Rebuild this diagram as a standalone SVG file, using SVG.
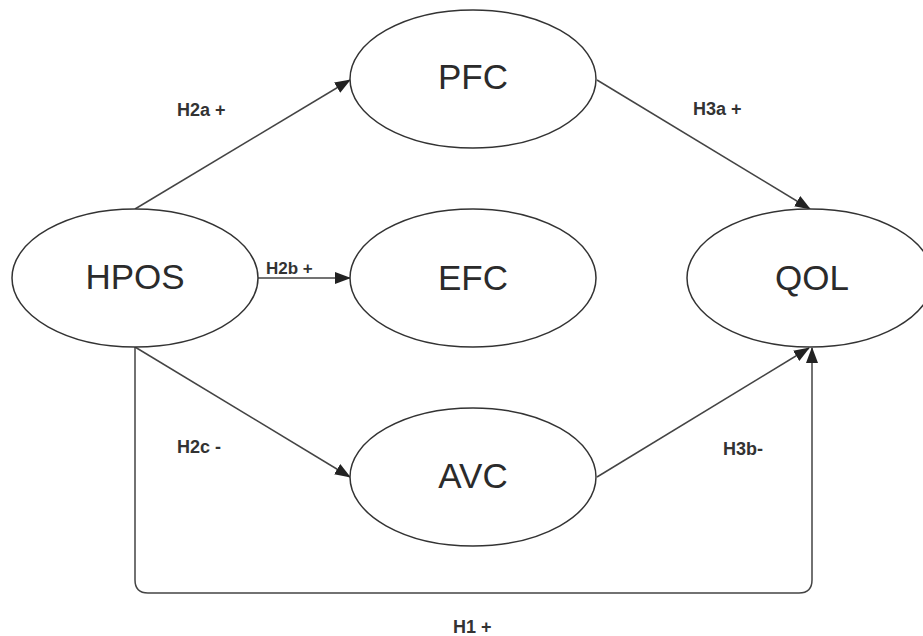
<svg xmlns="http://www.w3.org/2000/svg" width="923" height="636" viewBox="0 0 923 636">
<style>
.node ellipse{fill:#fff;stroke:#333;stroke-width:1.5}
.node text{font-family:"Liberation Sans",Arial,sans-serif;font-size:35px;fill:#2b2b2b;text-anchor:middle}
.lbl{font-family:"Liberation Sans",Arial,sans-serif;font-size:18px;font-weight:bold;fill:#333}
.edges path,.edges line{stroke:#444;stroke-width:1.5;fill:none}
</style>
<defs>
<marker id="arr" markerUnits="userSpaceOnUse" markerWidth="16" markerHeight="12" viewBox="0 0 16 12" refX="15" refY="6" orient="auto">
<path d="M0,0 L16,6 L0,12 Z" fill="#222"/>
</marker>
</defs>
<rect width="923" height="636" fill="#fff"/>
<g class="edges">
<line x1="135" y1="209" x2="350" y2="80" marker-end="url(#arr)"/>
<line x1="597" y1="80" x2="810" y2="209" marker-end="url(#arr)"/>
<line x1="258" y1="278" x2="350" y2="278" marker-end="url(#arr)"/>
<line x1="135" y1="347" x2="350" y2="477" marker-end="url(#arr)"/>
<line x1="597" y1="477" x2="809" y2="348" marker-end="url(#arr)"/>
<path d="M135,347 V580 Q135,593 148,593 H799 Q812,593 812,580 V348" marker-end="url(#arr)"/>
</g>
<g id="HPOS" class="node"><ellipse cx="135" cy="278" rx="123" ry="69"/><text x="135" y="289">HPOS</text></g>
<g id="PFC" class="node"><ellipse cx="473" cy="79" rx="123" ry="69"/><text x="473" y="89">PFC</text></g>
<g id="EFC" class="node"><ellipse cx="473" cy="278" rx="123" ry="69"/><text x="473" y="290">EFC</text></g>
<g id="AVC" class="node"><ellipse cx="473" cy="477" rx="123" ry="69"/><text x="473" y="488">AVC</text></g>
<g id="QOL" class="node"><ellipse cx="810" cy="278" rx="123" ry="69"/><text x="812" y="290">QOL</text></g>
<g id="labels">
<text class="lbl" x="177" y="116">H2a +</text>
<text class="lbl" x="693" y="115">H3a +</text>
<text class="lbl" x="266" y="274" style="font-size:17px">H2b +</text>
<text class="lbl" x="177" y="453">H2c -</text>
<text class="lbl" x="723" y="455">H3b-</text>
<text class="lbl" x="453" y="633">H1 +</text>
</g>
</svg>
